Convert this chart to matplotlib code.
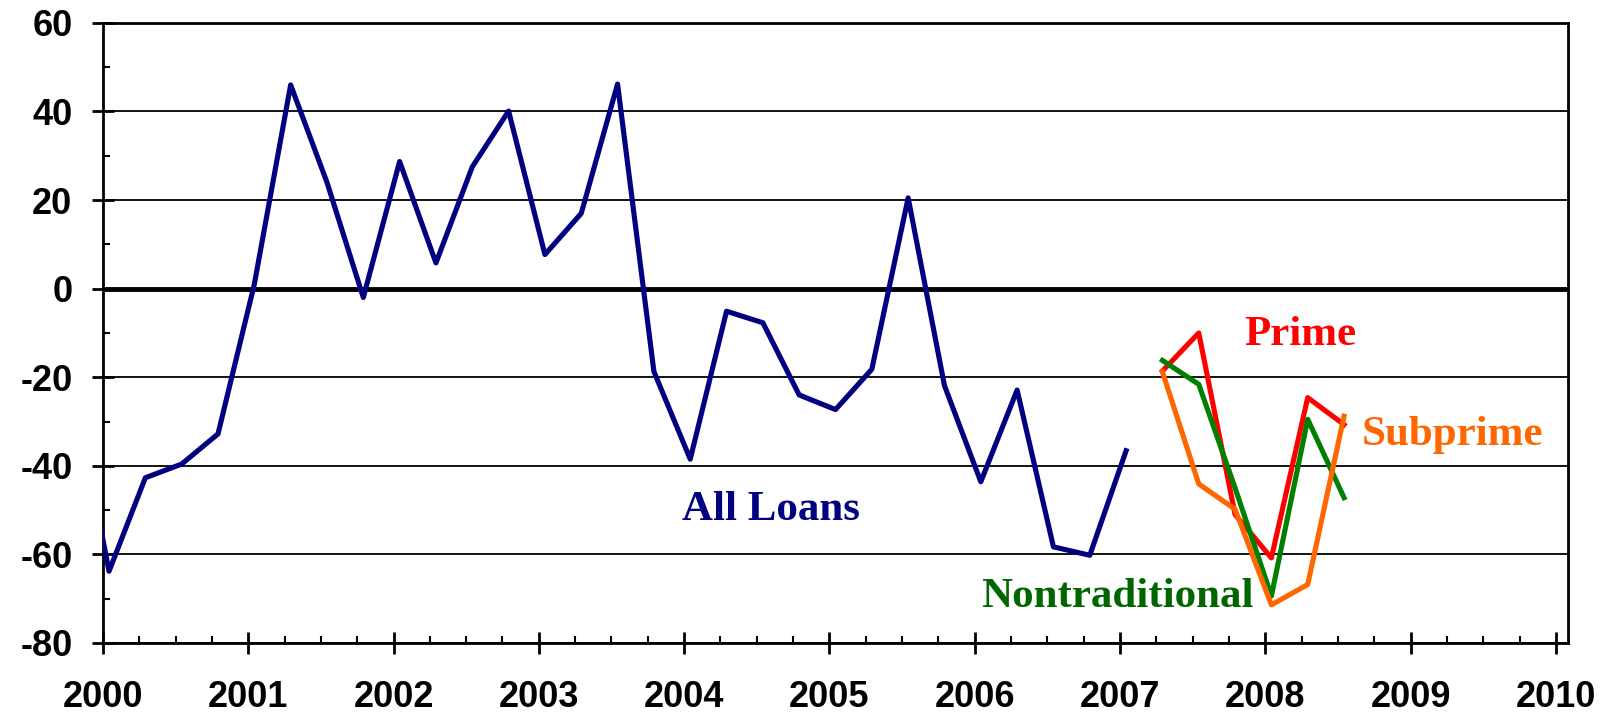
import numpy as np
import matplotlib
matplotlib.use("Agg")
import matplotlib.pyplot as plt
from matplotlib.ticker import MultipleLocator

plt.rcParams["axes.unicode_minus"] = False

# quarterly survey dates (mid-month of Jan/Apr/Jul/Oct)
all_years = [1999.79] + [y + q for y in range(2000, 2007) for q in (0.042, 0.292, 0.542, 0.792)] + [2007.042]
all_loans = [-21, -63.8, -42.7, -39.6, -32.8,
             1, 46, 24, -2,
             28.7, 5.8, 27.5, 40.1,
             7.7, 17, 46.2, -18.7,
             -38.5, -5.1, -7.7, -24,
             -27.3, -18.2, 20.5, -21.9,
             -43.6, -22.9, -58.3, -60.2,
             -36.6]

sub_years = [2007.292, 2007.542, 2007.792, 2008.042, 2008.292, 2008.542]
prime = [-18.6, -10.0, -51.0, -60.8, -24.6, -30.7]
subprime = [-18.8, -44.1, -49.8, -71.4, -66.8, -28.8]
nontrad = [-16.2, -21.6, -45.0, -69.4, -29.5, -47.2]

fig = plt.figure(figsize=(16.21, 7.16), dpi=100)
ax = fig.add_axes([0.0635, 0.102, 0.9035, 0.866])

ax.set_axisbelow(True)
ax.grid(axis="y", which="major", color="black", lw=1.3)
ax.axhline(0, color="black", lw=3.5, zorder=2)

lw = 3.7
ax.plot(all_years, all_loans, color="#000080", lw=lw, zorder=3)
ax.plot(sub_years, prime, color="#ff0000", lw=lw, zorder=3)
ax.plot(sub_years, nontrad, color="#008000", lw=lw, zorder=4)
ax.plot(sub_years, subprime, color="#ff6600", lw=lw, zorder=5)

lab = dict(fontsize=31, fontweight="bold", family="Liberation Serif", ha="center", va="center")
ax.text(2004.6, -50, "All Loans", color="#000080", **lab)
ax.text(2008.24, -10.5, "Prime", color="#ff0000", **lab)
ax.text(2009.29, -33.1, "Subprime", color="#ff6600", **lab)
ax.text(2006.98, -69.6, "Nontraditional", color="#006600", **lab)

ax.set_xlim(2000, 2010.08)
ax.set_ylim(-80, 60)
ax.xaxis.set_major_locator(MultipleLocator(1))
ax.xaxis.set_minor_locator(MultipleLocator(0.25))
ax.yaxis.set_major_locator(MultipleLocator(20))
ax.yaxis.set_minor_locator(MultipleLocator(10))

ax.tick_params(which="major", direction="inout", length=16, width=2, labelsize=26)
ax.tick_params(axis="y", which="major", pad=14)
ax.tick_params(axis="x", which="major", pad=19)
ax.tick_params(which="minor", direction="in", length=5, width=1.5)
for t in ax.get_xticklabels() + ax.get_yticklabels():
    t.set_fontweight("bold")
    t.set_family("Liberation Sans")

for s in ax.spines.values():
    s.set_linewidth(2)

fig.savefig("out.png", dpi=100)
